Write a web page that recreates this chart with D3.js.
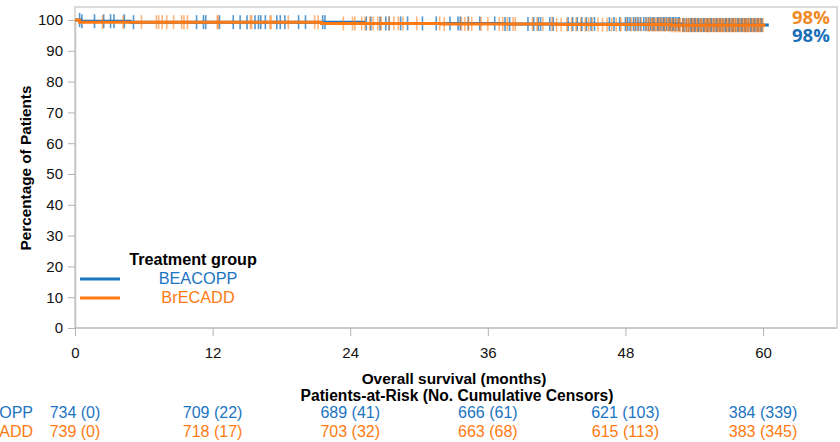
<!DOCTYPE html>
<html>
<head>
<meta charset="utf-8">
<script src="https://cdn.jsdelivr.net/npm/d3@7"></script>
<style>
  body { margin: 0; background: #fff; }
  svg { display: block; font-family: "Liberation Sans", Arial, sans-serif; }
</style>
</head>
<body>
<svg id="km"></svg>
<script>
const width = 840;
const height = 442;
const margin = {top: 7, left: 75, bottom: 114, right: 3};

const groups = ["BEACOPP", "BrECADD"];
const colors = ["#1b75c2", "#ff7a12"];
const labelColors = ["#1a6fb8", "#f08a24"];

// step curves (months, % surviving)
const beacoppTime = [0, 0.5, 4.8, 25.2, 37.5, 52.8, 60.5];
const beacoppSurv = [100, 99.6, 99.3, 98.9, 98.7, 98.4, 98.4];
const brecaddTime = [0, 0.4, 21.5, 32, 42, 52, 60.2];
const brecaddSurv = [100, 99.3, 98.9, 98.7, 98.5, 98.3, 98.3];

// censor marks (months)
const beacoppCensor = [0.4, 0.6, 1.7, 2.5, 3.1, 3.4, 4.3, 5.1, 10.6, 11.2, 11.4, 12.6, 13.8, 14.4,
  15.0, 15.7, 16.0, 16.2, 16.6, 17.6, 17.9, 18.3, 19.5, 20.1, 21.6, 21.8, 25.4, 25.8, 26.6, 27.1,
  27.4, 28.4, 29.0, 30.3, 31.5, 32.7, 33.4, 33.6, 34.3, 35.3, 36.6, 37.5, 37.9, 39.5, 40.0, 40.4,
  40.6, 41.4, 41.7, 43.0, 43.4, 43.8, 44.2, 44.6, 45.0, 45.3, 46.6, 47.0, 47.5, 48.0, 48.4, 48.9,
  49.3, 49.6, 50.0, 50.2, 50.5, 50.8, 51.1, 51.4, 51.6, 51.9, 52.2, 52.4, 52.7, 53.0, 53.3, 53.5,
  53.8, 54.1, 54.4, 54.6, 54.9, 55.2, 55.5, 55.7, 56.0, 56.3, 56.5, 56.8, 57.1, 57.4, 57.6, 57.9,
  58.2, 58.5, 58.7, 59.0, 59.3, 59.6, 59.9,
  48.2, 48.7, 49.1, 49.8, 50.4, 50.9, 51.3, 51.8, 52.1, 52.6, 53.1, 53.7, 54.0, 54.3, 54.8,
  55.1, 55.4, 55.9, 56.2, 56.7, 57.0, 57.3, 57.8, 58.1, 58.4, 58.9, 59.2, 59.5, 59.8];
const brecaddCensor = [2.4, 4.2, 5.8, 7.1, 7.3, 7.6, 8.0, 8.6, 9.3, 9.5, 9.8, 12.4, 12.5, 15.3,
  15.4, 17.0, 17.1, 18.6, 20.9, 21.2, 23.4, 24.2, 24.4, 25.0, 25.3, 25.7, 26.0, 26.4, 26.7, 27.4,
  27.8, 28.2, 28.6, 29.8, 31.8, 32.2, 33.7, 34.0, 34.3, 34.6, 35.4, 36.0, 37.0, 37.3, 37.7, 38.2,
  38.4, 39.9, 40.3, 40.8, 41.6, 42.0, 42.4, 42.9, 43.3, 43.7, 44.1, 44.5, 44.8, 45.1, 45.6, 46.0,
  46.4, 46.8, 47.2, 47.6, 48.1, 48.5, 48.8, 49.1, 49.4, 49.8, 50.1, 50.3, 50.6, 50.9, 51.2, 51.5,
  51.7, 52.0, 52.3, 52.6, 52.8, 53.1, 53.4, 53.6, 53.9, 54.2, 54.5, 54.7, 55.0, 55.3, 55.6, 55.8,
  56.1, 56.4, 56.6, 56.9, 57.2, 57.5, 57.7, 58.0, 58.3, 58.6, 58.8, 59.1, 59.4, 59.7, 60.0,
  50.0, 50.4, 50.7, 51.0, 51.4, 51.8, 52.1, 52.4, 52.7, 53.0, 53.3, 53.5, 53.8, 54.0, 54.3, 54.6,
  54.9, 55.1, 55.4, 55.7, 56.0, 56.2, 56.5, 56.8, 57.0, 57.3, 57.6, 57.9, 58.2, 58.4, 58.7, 59.0,
  59.2, 59.5, 59.8, 55.2, 56.3, 57.4, 58.5, 59.6];

const xTicks = [0, 12, 24, 36, 48, 60];
const yTicks = [0, 10, 20, 30, 40, 50, 60, 70, 80, 90, 100];

const atRiskBeacopp = ["734 (0)", "709 (22)", "689 (41)", "666 (61)", "621 (103)", "384 (339)"];
const atRiskBrecadd = ["739 (0)", "718 (17)", "703 (32)", "663 (68)", "615 (113)", "383 (345)"];
const finalLabels = ["98%", "98%"];

const curves = [
  {time: beacoppTime, surv: beacoppSurv, censor: beacoppCensor, risk: atRiskBeacopp},
  {time: brecaddTime, surv: brecaddSurv, censor: brecaddCensor, risk: atRiskBrecadd}
];

const svg = d3.select("#km").attr("width", width).attr("height", height);

const x = d3.scaleLinear().domain([0, 66.45]).range([margin.left, width - margin.right]);
const y = d3.scaleLinear().domain([0, 100]).range([328, 20]);

// frame
svg.append("rect")
  .attr("x", margin.left).attr("y", margin.top)
  .attr("width", width - margin.right - margin.left)
  .attr("height", y(0) - margin.top)
  .attr("fill", "none").attr("stroke", "#cfcfcf").attr("stroke-width", 1.5);

const xAxis = svg.append("g")
  .attr("transform", `translate(0,${y(0)})`)
  .call(d3.axisBottom(x).tickValues(xTicks).tickSize(8).tickPadding(11).tickSizeOuter(0));
const yAxis = svg.append("g")
  .attr("transform", `translate(${margin.left},0)`)
  .call(d3.axisLeft(y).tickValues(yTicks).tickSize(7).tickPadding(5).tickSizeOuter(0));

[xAxis, yAxis].forEach(g => {
  g.select(".domain").attr("stroke", "#c4c4c4").attr("stroke-width", 1.5);
  g.selectAll(".tick line").attr("stroke", "#b4b4b4");
  g.selectAll(".tick text").attr("fill", "#111").style("font-size", "15px")
    .style("font-family", "'Liberation Sans', Arial, sans-serif");
});
xAxis.select(".domain").attr("d", `M${x(0)},0H${width - margin.right}`);

svg.append("text")
  .attr("transform", `translate(31,168) rotate(-90)`)
  .attr("text-anchor", "middle")
  .style("font-size", "15.3px").style("font-weight", "bold")
  .text("Percentage of Patients");

svg.append("text")
  .attr("x", 454).attr("y", 384)
  .attr("text-anchor", "middle")
  .style("font-size", "15.4px").style("font-weight", "bold")
  .text("Overall survival (months)");

svg.append("text")
  .attr("x", 457).attr("y", 401)
  .attr("text-anchor", "middle")
  .style("font-size", "15.6px").style("font-weight", "bold")
  .text("Patients-at-Risk (No. Cumulative Censors)");

// curves
const stepLine = d3.line().curve(d3.curveStepAfter).x(d => x(d[0])).y(d => y(d[1]));

curves.forEach((c, i) => {
  const pts = c.time.map((t, k) => [t, c.surv[k]]);
  const survAt = t => {
    let s = c.surv[0];
    c.time.forEach((tt, k) => { if (tt <= t) s = c.surv[k]; });
    return s;
  };
  svg.append("g")
    .selectAll("line")
    .data(c.censor)
    .join("line")
    .attr("x1", d => x(d)).attr("x2", d => x(d))
    .attr("y1", d => y(survAt(d)) - 7)
    .attr("y2", d => y(survAt(d)) + 7)
    .attr("stroke", colors[i])
    .attr("stroke-opacity", i === 0 ? 0.75 : 0.55)
    .attr("stroke-width", 1.6);
  svg.append("path")
    .datum(pts)
    .attr("d", stepLine)
    .attr("fill", "none")
    .attr("stroke", colors[i])
    .attr("stroke-width", 3);
});

// end labels
svg.selectAll(".endLabel")
  .data(finalLabels)
  .join("text")
  .attr("class", "endLabel")
  .attr("x", 792)
  .attr("y", (d, i) => i === 0 ? 42 : 24)
  .attr("fill", (d, i) => labelColors[i])
  .style("font-family", "'Open Sans', sans-serif")
  .style("font-size", "18.5px").style("font-weight", "bold")
  .text(d => d);

// legend
svg.append("text")
  .attr("x", 193).attr("y", 265)
  .attr("text-anchor", "middle")
  .style("font-size", "16.2px").style("font-weight", "bold")
  .text("Treatment group");

const legend = svg.append("g").selectAll("g")
  .data(groups)
  .join("g")
  .attr("transform", (d, i) => `translate(0,${279 + i * 19})`);
legend.append("line")
  .attr("x1", 80).attr("x2", 120)
  .attr("stroke", (d, i) => colors[i]).attr("stroke-width", 3);
legend.append("text")
  .attr("x", 198).attr("y", 5)
  .attr("text-anchor", "middle")
  .attr("fill", (d, i) => colors[i])
  .style("font-size", "16.3px")
  .text(d => d);

// patients at risk table
curves.forEach((c, i) => {
  const row = svg.append("g").attr("transform", `translate(0,${418 + i * 19})`);
  row.append("text")
    .attr("x", 33).attr("text-anchor", "end")
    .attr("fill", colors[i]).style("font-size", "16px")
    .text(groups[i]);
  row.selectAll(".risk")
    .data(c.risk)
    .join("text")
    .attr("class", "risk")
    .attr("x", (d, k) => x(xTicks[k]))
    .attr("text-anchor", "middle")
    .attr("fill", colors[i]).style("font-size", "16px")
    .text(d => d);
});
</script>
</body>
</html>
